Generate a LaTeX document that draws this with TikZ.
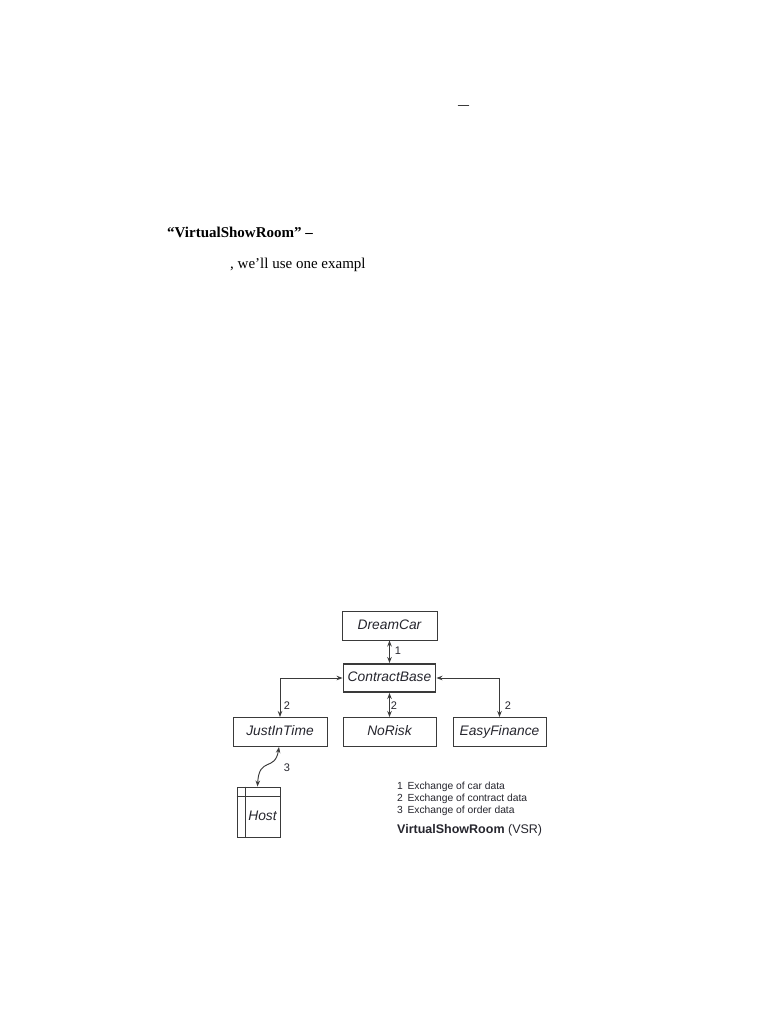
\documentclass[tikz,border=0pt]{standalone}
\usepackage{fontspec}
\setmainfont{Liberation Serif}
\newfontfamily\arialf{Liberation Sans}
\usetikzlibrary{arrows.meta}
\definecolor{ink}{HTML}{3A3A3A}
\definecolor{txt}{HTML}{26262E}
\tikzset{
  box/.style={draw=ink, line width=0.95pt, minimum width=94pt, minimum height=29pt, inner sep=0pt,
              text height=10pt, text depth=3pt,
              font=\arialf\itshape\fontsize{13.8}{16}\selectfont, text=txt},
  mainbox/.style={box, line width=1.9pt},
  biarrow/.style={draw=ink, line width=0.95pt, {Stealth[length=6pt,width=4.5pt]}-{Stealth[length=6pt,width=4.5pt]}},
  num/.style={font=\arialf\fontsize{11}{12}\selectfont, text=txt, inner sep=0pt},
  legend/.style={font=\arialf\fontsize{10.3}{12}\selectfont, text=txt, inner sep=0pt, anchor=west},
  serif/.style={font=\fontsize{15}{18}\selectfont, inner sep=0pt, anchor=west}
}
\begin{document}
\begin{tikzpicture}[x=1pt,y=-1pt]
\useasboundingbox[fill=white] (0,0) rectangle (768,1024);
% text above
\node[inner sep=0pt, font=\bfseries\fontsize{11}{12}\selectfont] (dash) at (463.5,107) {—};
\node[serif, font=\bfseries\fontsize{15}{18}\selectfont] (t1) at (167,232) {“VirtualShowRoom” –};
\node[serif] (t2) at (230,265) {, we’ll use one exampl};
% boxes
\node[box, minimum width=95pt] (dc) at (389.5,625.5) {DreamCar};
\node[mainbox, minimum width=92pt, minimum height=28pt] (cb) at (389.5,678) {ContractBase};
\node[box] (jit) at (280,732) {JustInTime};
\node[box, minimum width=93pt] (nr) at (389.5,732) {NoRisk};
\node[box, minimum width=93pt] (ef) at (499.5,732) {EasyFinance};
\node[draw=ink, line width=0.95pt, minimum width=43pt, minimum height=50pt, inner sep=0pt] (host) at (258.5,812) {};
\draw[ink, line width=0.95pt] ([xshift=9pt]host.north west) -- ([xshift=9pt]host.south west);
\draw[ink, line width=0.95pt] ([yshift=-10pt]host.north west) -- ([yshift=-10pt]host.north east);
\node[font=\arialf\itshape\fontsize{13.8}{16}\selectfont, text=txt, inner sep=0pt] (hostlbl) at (262.5,816) {Host};
% connectors
\draw[biarrow] (dc) -- (cb);
\draw[biarrow] (cb.west) -| (jit.north);
\draw[biarrow] (cb.east) -| (ef.north);
\draw[biarrow] (cb) -- (nr);
\draw[biarrow] ([xshift=-1pt]jit.south) .. controls (275,772) and (259,756) .. ([xshift=-1pt]host.north);
% numbers
\node[num] (n1) at (398,651) {1};
\node[num] (n2a) at (287,706) {2};
\node[num] (n2b) at (394,706) {2};
\node[num] (n2c) at (508,706) {2};
\node[num] (n3) at (287,768) {3};
% legend
\node[legend] (l1) at (397,787) {1\, Exchange of car data};
\node[legend] (l2) at (397,799) {2\, Exchange of contract data};
\node[legend] (l3) at (397,811) {3\, Exchange of order data};
\node[legend, font=\arialf\fontsize{12.5}{14}\selectfont] (vsr) at (397,830) {\textbf{VirtualShowRoom} (VSR)};
\end{tikzpicture}
\end{document}
